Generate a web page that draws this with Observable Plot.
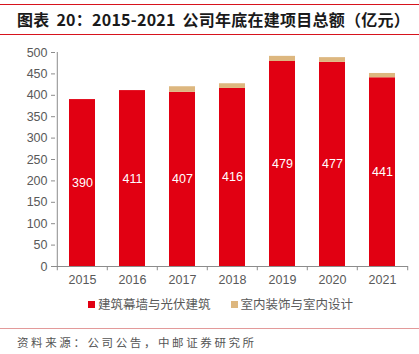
<!DOCTYPE html>
<html><head><meta charset="utf-8">
<script src="https://cdn.jsdelivr.net/npm/d3@7"></script>
<script src="https://cdn.jsdelivr.net/npm/@observablehq/plot@0.6"></script>
<style>
body{margin:0;width:419px;height:354px;background:#fff;font-family:"Noto Sans CJK SC","Noto Sans",sans-serif;overflow:hidden;position:relative}
#title{position:absolute;left:0;top:4px;width:419px;border-top:1.5px solid #d7131d;border-bottom:1.5px solid #d7131d;font-weight:bold;font-size:16px;color:#1a1a1a;line-height:28px;padding-left:17px;box-sizing:border-box;height:31px;letter-spacing:0.25px;word-spacing:3px}
#chart{position:absolute;left:0;top:36px}
#legend{position:absolute;top:294px;left:0;width:419px;padding-left:22px;box-sizing:border-box;text-align:center;font-size:12.5px;color:#595959;font-family:"Noto Sans CJK SC",sans-serif}
#legend span.item{margin:0 10px;white-space:nowrap}
#legend i{display:inline-block;width:7px;height:7px;margin-right:3px;vertical-align:1px}
#source{position:absolute;left:0;top:328px;width:419px;border-top:1.5px solid #e39a9a;font-size:11.5px;color:#555;padding-left:17px;box-sizing:border-box;line-height:26px;letter-spacing:2.6px}
</style></head>
<body>
<div id="title">图表 20：2015-2021 公司年底在建项目总额（亿元）</div>
<div id="chart"></div>
<div id="legend"></div>
<div id="source">资料来源：公司公告，中邮证券研究所</div>
<script>
const years = ["2015","2016","2017","2018","2019","2020","2021"];
const curtainWall = [390, 411, 407, 416, 479, 477, 441];
const interior = [0, 0, 13, 11, 12, 11, 10];
const seriesNames = ["建筑幕墙与光伏建筑", "室内装饰与室内设计"];
const seriesColors = ["#e10012", "#ddb77f"];
const yTicks = [0,50,100,150,200,250,300,350,400,450,500];

const rows = [];
years.forEach((y,i)=>{
  rows.push({year:y, series:seriesNames[0], value:curtainWall[i]});
  rows.push({year:y, series:seriesNames[1], value:interior[i]});
});
const labels = years.map((y,i)=>({year:y, mid:curtainWall[i]/2, label:String(curtainWall[i])}));

const W = 419, H = 258, ml = 55, mr = 11;
const step = (W - ml - mr) / years.length;
const axisColor = "#8c8c8c";

const plot = Plot.plot({
  width: W, height: H,
  marginLeft: ml, marginRight: mr, marginTop: 16, marginBottom: 28,
  style: {fontFamily: "Liberation Sans, Arial, sans-serif", fontSize: "12.5px", color: "#595959", background: "white"},
  x: {domain: years, padding: 0, label: null},
  y: {domain: [0, 500], label: null},
  color: {domain: seriesNames, range: seriesColors},
  marks: [
    Plot.barY(rows, {x: "year", y: "value", fill: "series", insetLeft: 12, insetRight: 12, order: seriesNames}),
    Plot.text(labels, {x: "year", y: "mid", text: "label", fill: "white", fontSize: 12.5}),
    Plot.ruleY([0], {stroke: axisColor}),
    Plot.ruleX([years[0]], {y1: 0, y2: 500, dx: -step/2, stroke: axisColor}),
    Plot.ruleX(years, {y1: 0, y2: -10, dx: -step/2, stroke: axisColor}),
    Plot.ruleX([years[years.length-1]], {y1: 0, y2: -10, dx: step/2, stroke: axisColor}),
    Plot.axisX({tickSize: 0, tickPadding: 9, fontSize: 12.5}),
    Plot.axisY({ticks: yTicks, tickSize: 4, tickPadding: 4, stroke: axisColor, fontSize: 12.5})
  ]
});
document.getElementById("chart").appendChild(plot);

const lg = document.getElementById("legend");
seriesNames.forEach((n,i)=>{
  const s = document.createElement("span"); s.className="item";
  s.innerHTML = `<i style="background:${seriesColors[i]}"></i>${n}`;
  lg.appendChild(s);
});
</script>
</body></html>
